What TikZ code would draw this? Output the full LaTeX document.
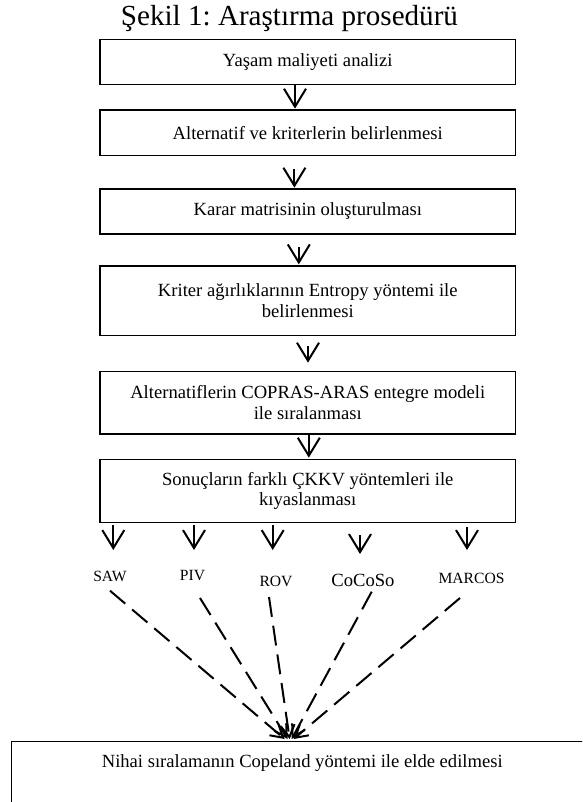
\documentclass[tikz,border=0pt]{standalone}
\usepackage{fontspec}
\setmainfont{Liberation Serif}
\usetikzlibrary{arrows.meta,calc}
\frenchspacing
\newcommand\bxfont{\fontsize{18.6}{20.5}\selectfont}
\newcommand\lbfont{\fontsize{15.6}{17}\selectfont}
\newcommand\ttlfont{\fontsize{29.1}{32}\selectfont}
\begin{document}
\begin{tikzpicture}[x=1pt,y=1pt,
  box/.style={draw, line width=1.3pt, minimum width=415.5pt, inner sep=0pt, align=center, font=\bxfont},
  arr/.style={line width=2pt, -{Straight Barb[length=18pt,width=22pt]}},
  darr/.style={line width=2pt, dash pattern=on 20pt off 9pt, -{Straight Barb[length=12pt,width=14pt]}},
  lbl/.style={font=\lbfont, anchor=base, inner sep=0pt}]
\useasboundingbox (0,0) rectangle (582,-802);
\fill[white] (0,0) rectangle (582,-802);
\clip (0,0) rectangle (582,-802);

\node[font=\ttlfont, anchor=base, inner sep=0pt] (title) at (289.5,-26) {Şekil 1: Araştırma prosedürü};

\node[box, minimum height=45.4pt] (b1) at (307.75,-62) {Yaşam maliyeti analizi};
\node[box, minimum height=45.7pt] (b2) at (307.75,-132.85) {Alternatif ve kriterlerin belirlenmesi};
\node[box, minimum height=45pt] (b3) at (307.75,-211.5) {Karar matrisinin oluşturulması};
\node[box, minimum height=69.7pt] (b4) at (307.75,-300.85) {Kriter ağırlıklarının Entropy yöntemi ile\\belirlenmesi};
\node[box, minimum height=62.7pt] (b5) at (307.75,-402.65) {Alternatiflerin COPRAS-ARAS entegre modeli\\ile sıralanması};
\node[box, minimum height=63pt] (b6) at (307.75,-490.8) {Sonuçların farklı ÇKKV yöntemleri ile\\kıyaslanması};

\draw[arr] ([xshift=-12.75pt]b1.south) -- ([xshift=-12.75pt,yshift=0.7pt]b2.north);
\draw[arr] ([xshift=-13.35pt,yshift=-12.3pt]b2.south) -- ([xshift=-13.35pt,yshift=0.7pt]b3.north);
\draw[arr] ([xshift=-8.95pt,yshift=-12.7pt]b3.south) -- ([xshift=-8.95pt,yshift=1pt]b4.north);
\draw[arr] ([xshift=0.25pt,yshift=-9.3pt]b4.south) -- ([xshift=0.25pt,yshift=8pt]b5.north);
\draw[arr] ([xshift=1.05pt]b5.south) -- ([xshift=1.05pt,yshift=1pt]b6.north);

\node[lbl] (saw) at (110,-581.7) {SAW};
\node[lbl] (piv) at (192.5,-580) {PIV};
\node[lbl] (rov) at (276,-586) {ROV};
\node[lbl, font=\bxfont] (cocoso) at (363,-586) {CoCoSo};
\node[lbl] (marcos) at (471.5,-583.3) {MARCOS};

\coordinate (sawA) at (113.3,-525); \coordinate (sawB) at (113.3,-550);
\coordinate (pivA) at (194,-525);   \coordinate (pivB) at (194,-550);
\coordinate (rovA) at (272.7,-525); \coordinate (rovB) at (272.7,-550);
\coordinate (cocA) at (360,-535);   \coordinate (cocB) at (360,-554);
\coordinate (marA) at (467,-527);   \coordinate (marB) at (467,-550);
\draw[arr] (sawA) -- (sawB);
\draw[arr] (pivA) -- (pivB);
\draw[arr] (rovA) -- (rovB);
\draw[arr] (cocA) -- (cocB);
\draw[arr] (marA) -- (marB);

\node[draw, line width=1.3pt, anchor=north west, minimum width=581.8pt, inner xsep=0pt, inner ysep=0pt,
      text height=26.3pt, text depth=60pt, font=\bxfont] (fin) at (10.7,-740.7)
      {Nihai sıralamanın Copeland yöntemi ile elde edilmesi};

\coordinate (sawS) at (110,-590.7);
\coordinate (pivS) at (200,-598);
\coordinate (rovS) at (269,-597);
\coordinate (cocS) at (371.7,-591.7);
\coordinate (marS) at (460,-598);
\draw[darr] (sawS) -- ([xshift=-17.6pt,yshift=1.7pt]fin.north);
\draw[darr] (pivS) -- ([xshift=-14.6pt,yshift=1.7pt]fin.north);
\draw[darr] (rovS) -- ([xshift=-12.6pt,yshift=1.7pt]fin.north);
\draw[darr] (cocS) -- ([xshift=-10.6pt,yshift=1.7pt]fin.north);
\draw[darr] (marS) -- ([xshift=-8.6pt,yshift=1.7pt]fin.north);
\end{tikzpicture}
\end{document}
